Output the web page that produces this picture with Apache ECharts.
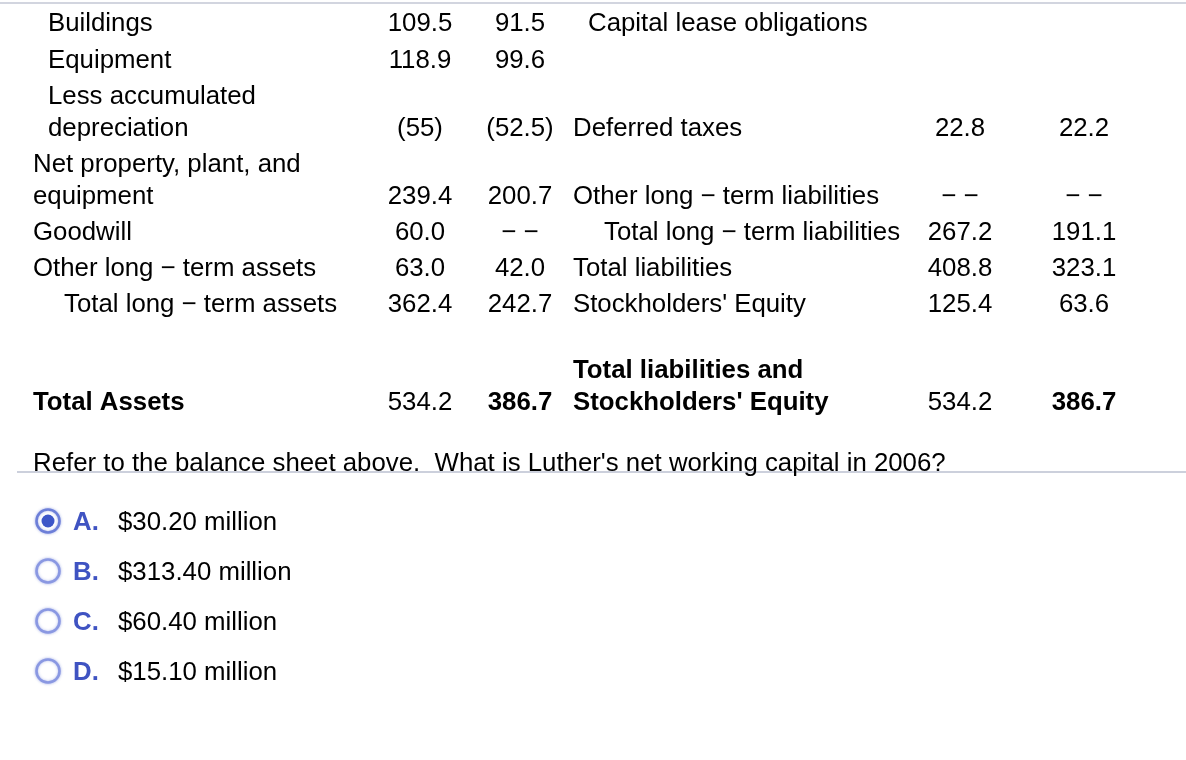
<!DOCTYPE html>
<html>
<head>
<meta charset="utf-8">
<script src="https://cdn.jsdelivr.net/npm/echarts@6/dist/echarts.min.js"></script>
<style>
  html, body { margin: 0; padding: 0; background: #ffffff; }
  #chart { width: 1186px; height: 760px; }
</style>
</head>
<body>
<div id="chart"></div>
<script>
// ---------- DATA ----------
const assetLabels = [
  ["Buildings"],
  ["Equipment"],
  ["Less accumulated", "depreciation"],
  ["Net property, plant, and", "equipment"],
  ["Goodwill"],
  ["Other long \u2212 term assets"],
  ["Total long \u2212 term assets"],
  ["Total Assets"]
];
const assets2006 = ["109.5", "118.9", "(55)", "239.4", "60.0", "63.0", "362.4", "534.2"];
const assets2005 = ["91.5", "99.6", "(52.5)", "200.7", "\u2212 \u2212", "42.0", "242.7", "386.7"];

const liabilityLabels = [
  ["Capital lease obligations"],
  [],
  ["Deferred taxes"],
  ["Other long \u2212 term liabilities"],
  ["Total long \u2212 term liabilities"],
  ["Total liabilities"],
  ["Stockholders' Equity"],
  ["Total liabilities and", "Stockholders' Equity"]
];
const liab2006 = ["", "", "22.8", "\u2212 \u2212", "267.2", "408.8", "125.4", "534.2"];
const liab2005 = ["", "", "22.2", "\u2212 \u2212", "191.1", "323.1", "63.6", "386.7"];

const questionText = "Refer to the balance sheet above.  What is Luther's net working capital in 2006?";
const optionLetters = ["A.", "B.", "C.", "D."];
const optionTexts = ["$30.20 million", "$313.40 million", "$60.40 million", "$15.10 million"];
const selectedOption = 0;

// ---------- LAYOUT / STYLE ----------
const FONT = "Liberation Sans, Arial, Helvetica, sans-serif";
const FS = 25.8;
const rowY = [24, 61, 129, 197, 233, 269, 305, 403];   // centre of each row's last line
const lineGap = 32;
const assetIndent = [48, 48, 48, 33, 33, 33, 64, 33];
const liabIndent = [588, 588, 573, 573, 604, 573, 573, 573];
const boldRow = 7;
const colA06 = 420, colA05 = 520, colL06 = 960, colL05 = 1084;
const questionY = 464;
const optionY0 = 521, optionGap = 50;

const elements = [];
function txt(text, x, y, align, bold, fill) {
  elements.push({
    type: 'text',
    style: {
      text: text, x: x, y: y,
      fill: fill || '#000000',
      font: (bold ? 'bold ' : '') + FS + 'px ' + FONT,
      textAlign: align || 'left',
      textVerticalAlign: 'middle',
      verticalAlign: 'middle'
    }
  });
}

// top and separator lines
elements.push({ type: 'line', shape: { x1: 0, y1: 3, x2: 1186, y2: 3 }, style: { stroke: '#d2d5df', lineWidth: 2 } });
elements.push({ type: 'line', shape: { x1: 17, y1: 472, x2: 1186, y2: 472 }, style: { stroke: '#ccd0dc', lineWidth: 2 } });

for (let i = 0; i < rowY.length; i++) {
  const bold = i === boldRow;
  const al = assetLabels[i];
  al.forEach((t, k) => txt(t, assetIndent[i], rowY[i] - (al.length - 1 - k) * lineGap, 'left', bold));
  txt(assets2006[i], colA06, rowY[i], 'center', false);
  txt(assets2005[i], colA05, rowY[i], 'center', bold);
  const ll = liabilityLabels[i];
  ll.forEach((t, k) => txt(t, liabIndent[i], rowY[i] - (ll.length - 1 - k) * lineGap, 'left', bold));
  if (liab2006[i]) txt(liab2006[i], colL06, rowY[i], 'center', false);
  if (liab2005[i]) txt(liab2005[i], colL05, rowY[i], 'center', bold);
}

txt(questionText, 33, questionY, 'left', false);

optionLetters.forEach((letter, i) => {
  const y = optionY0 + i * optionGap;
  const sel = i === selectedOption;
  elements.push({
    type: 'circle',
    shape: { cx: 48, cy: y, r: 11.5 },
    style: {
      fill: '#ffffff',
      stroke: sel ? '#6d7fd8' : '#8a98e2',
      lineWidth: 2.6,
      shadowBlur: 3,
      shadowColor: 'rgba(90,110,210,0.45)'
    }
  });
  if (sel) {
    elements.push({
      type: 'circle',
      shape: { cx: 48, cy: y, r: 6.5 },
      style: { fill: '#3d56c8' }
    });
  }
  txt(letter, 73, y + 2, 'left', true, '#3f53c2');
  txt(optionTexts[i], 118, y + 2, 'left', false);
});

const chart = echarts.init(document.getElementById('chart'), null, { renderer: 'canvas' });
chart.setOption({
  backgroundColor: '#ffffff',
  animation: false,
  graphic: { elements: elements }
});
</script>
</body>
</html>
